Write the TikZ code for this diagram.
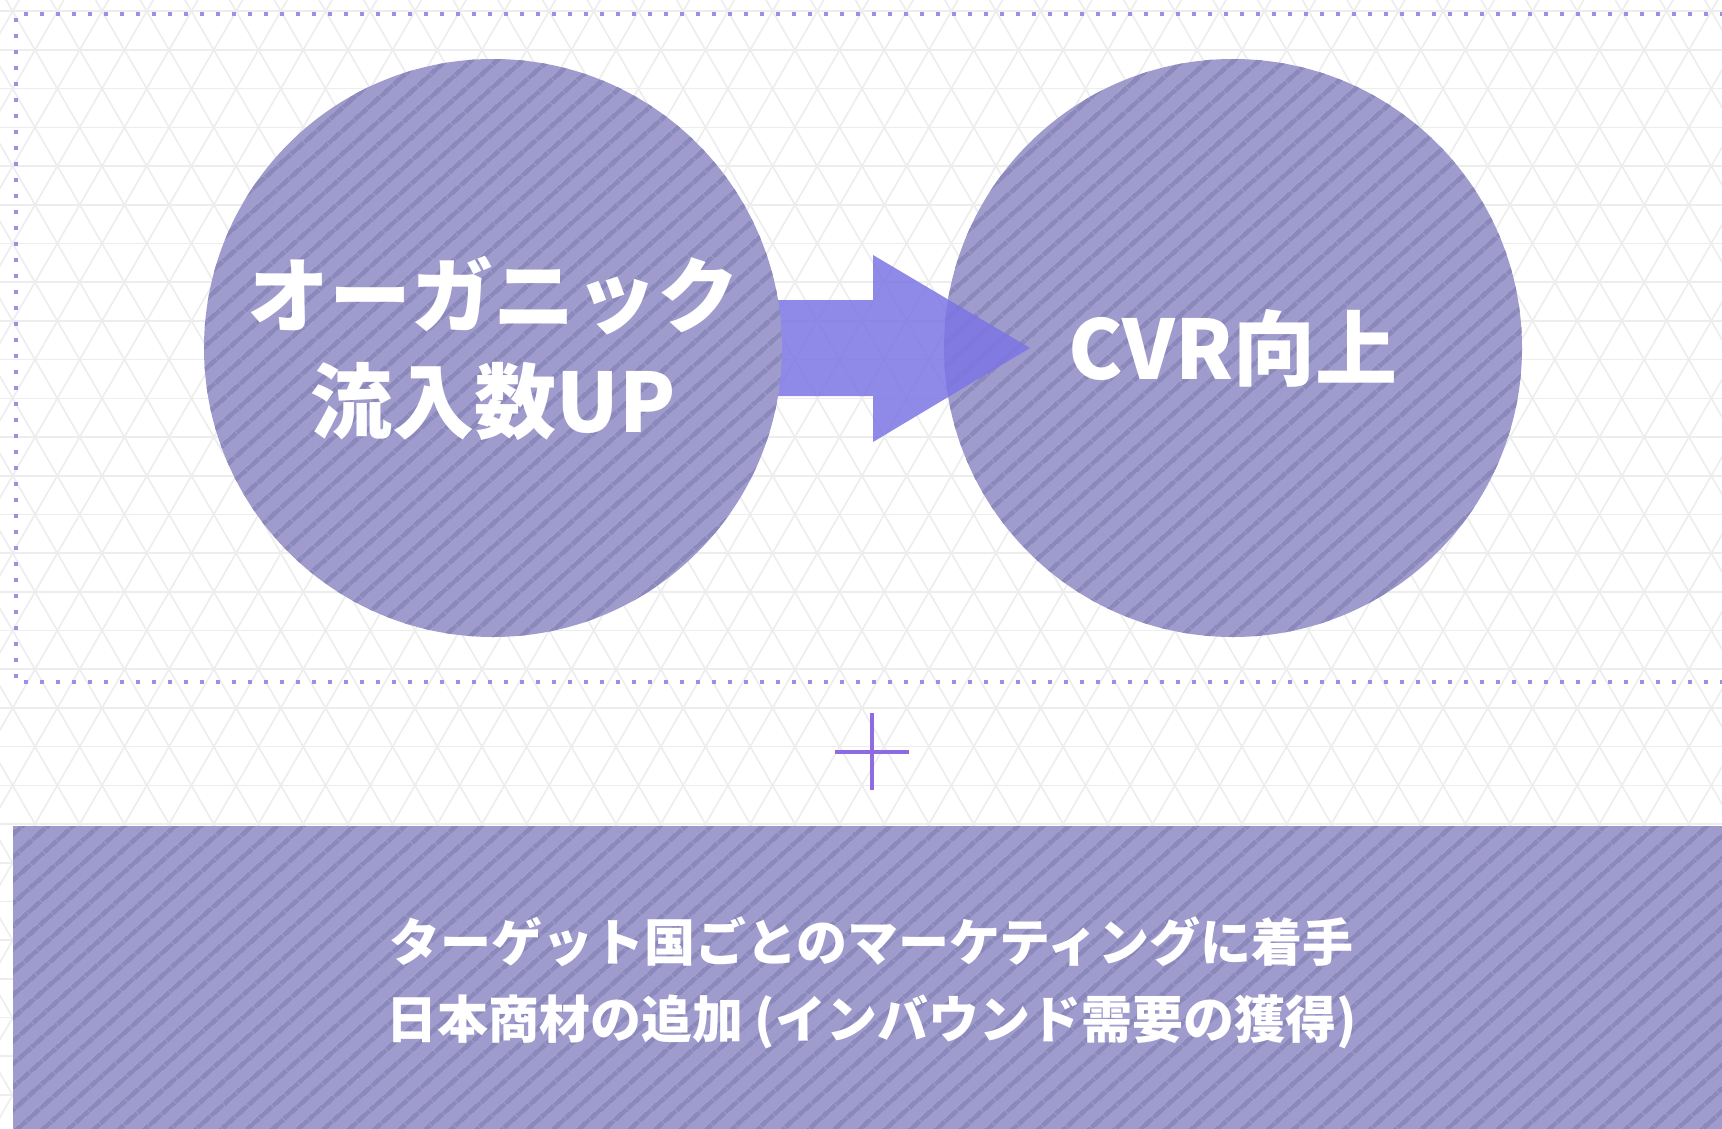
\documentclass[tikz,border=0pt]{standalone}
\usepackage{fontspec}
\newfontfamily\jpfont{Noto Sans CJK JP}
\usetikzlibrary{patterns.meta}

\definecolor{bubblefill}{HTML}{9F9CCD}
\definecolor{stripe}{HTML}{8B88BB}
\definecolor{flow}{HTML}{7C75E4}
\definecolor{framecol}{HTML}{9A90E8}
\definecolor{pluscol}{HTML}{8E6BE0}
\definecolor{latticecol}{HTML}{EDEDED}

\begin{document}
\begin{tikzpicture}[x=1pt,y=-1pt,
    hatched/.style={fill=bubblefill,
        postaction={pattern={Lines[angle=42,distance=17pt,line width=5pt]},
        pattern color=stripe}},
    bubble/.style={circle,hatched,minimum size=578pt,inner sep=0pt,
        text=white,align=center,
        font=\jpfont\bfseries\fontsize{82}{106}\selectfont},
    panel/.style={rectangle,hatched,minimum width=1717pt,minimum height=314pt,
        inner sep=0pt,text=white,align=center,
        font=\jpfont\bfseries\fontsize{51}{77}\selectfont},
    lattice/.style={latticecol,line width=1.6pt}]
        \useasboundingbox (0,0) rectangle (1722,1129);
        \clip (0,0) rectangle (1722,1129);
        \fill [white] (0,0) rectangle (1722,1129);

        % triangle lattice in the back
        \foreach \r in {0,...,29}
            \draw [lattice] (0,11.3+38.7*\r) -- (1722,11.3+38.7*\r);
        \foreach \k in {-16,...,54} {
            \draw [lattice] (35+44.7*\k-34.6,-10) -- ++(664,1150);
            \draw [lattice] (35+44.7*\k+34.6,-10) -- ++(-664,1150);
        }

        \draw [framecol,line width=4pt,dash pattern=on 4pt off 12pt]
            (1740,14) -- (16,14) -- (16,682) -- (1740,682);

        \node [bubble] (cvr) at (1233,348) {CVR向上};
        \fill [flow,opacity=.85] (770,300) -- (873,300) -- (873,255)
            -- (1030,348) -- (873,442) -- (873,396) -- (770,396) -- cycle;
        \node [bubble] (organic) at (493,348) {オーガニック\\流入数UP};

        \draw [pluscol,line width=4pt] (872,713) -- (872,790);
        \draw [pluscol,line width=4pt] (835,752) -- (909,752);

        \node [panel] (tasks) at (871.5,983)
            {ターゲット国ごとのマーケティングに着手\\日本商材の追加 (インバウンド需要の獲得)};
\end{tikzpicture}
\end{document}
